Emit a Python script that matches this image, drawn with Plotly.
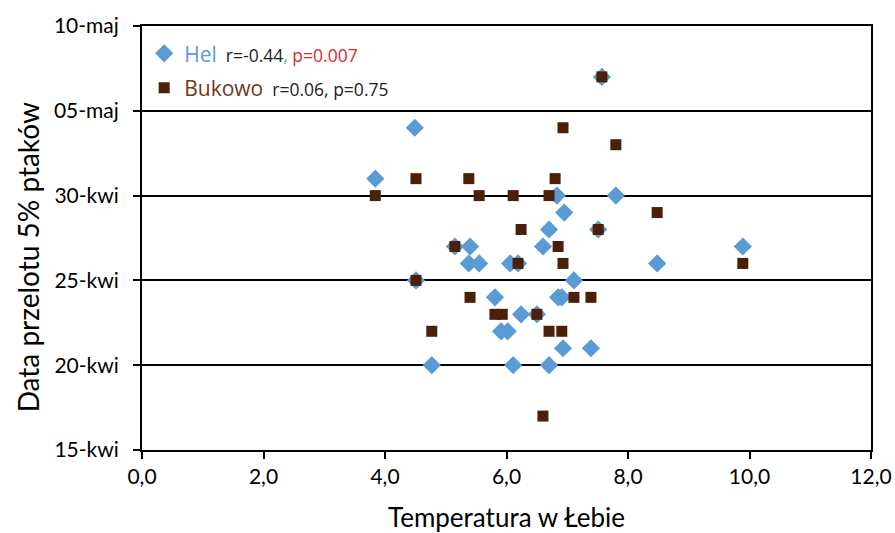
import plotly.graph_objects as go

# Day numbers counted in April (May d = 30 + d)
hel_temp = [3.84, 4.49, 4.51, 4.77, 5.15, 5.40, 5.38, 5.55, 5.81, 5.91, 6.02, 6.06, 6.11, 6.19,
            6.24, 6.50, 6.60, 6.70, 6.70, 6.83, 6.95, 6.85, 6.91, 6.93, 7.11, 7.39, 7.51, 7.57,
            7.80, 8.48, 9.89]
hel_day = [31, 34, 25, 20, 27, 27, 26, 26, 24, 22, 22, 26, 20, 26,
           23, 23, 27, 28, 20, 30, 29, 24, 24, 21, 25, 21, 28, 37,
           30, 26, 27]

buk_temp = [3.84, 4.51, 4.51, 4.77, 5.15, 5.38, 5.40, 5.55, 5.81, 5.93, 6.11, 6.19, 6.24,
            6.50, 6.60, 6.70, 6.70, 6.80, 6.85, 6.93, 6.91, 6.93, 7.11, 7.39, 7.51, 7.57,
            7.80, 8.48, 9.89]
buk_day = [30, 31, 25, 22, 27, 31, 24, 30, 23, 23, 30, 26, 28,
           23, 17, 22, 30, 31, 27, 26, 22, 34, 24, 24, 28, 37,
           33, 29, 26]

y_tickvals = [15, 20, 25, 30, 35, 40]
y_ticktext = ["15-kwi", "20-kwi", "25-kwi", "30-kwi", "05-maj", "10-maj"]
x_tickvals = [0, 2, 4, 6, 8, 10, 12]
x_ticktext = ["0,0", "2,0", "4,0", "6,0", "8,0", "10,0", "12,0"]

BLUE = "#5B9BD5"
BROWN = "#4A2108"
FONT = "Lato"

fig = go.Figure()
fig.add_trace(go.Scatter(
    x=hel_temp, y=hel_day, mode="markers", legendgroup="hel",
    marker=dict(symbol="diamond", size=14, color=BLUE),
    name=("<span style='color:#5B9BD5;font-size:21px'>Hel</span>"
          "<span style='font-size:17.5px'>&nbsp;&nbsp;r=-0.44</span>"
          "<span style='font-size:17.5px;color:#5B9BD5'>, </span>"
          "<span style='font-size:17.5px;color:#E0282E'>p=0.007</span>"),
))
fig.add_trace(go.Scatter(
    x=buk_temp, y=buk_day, mode="markers", legendgroup="buk",
    marker=dict(symbol="square", size=11, color=BROWN),
    name=("<span style='color:#6B3A1E;font-size:21px'>Bukowo</span>"
          "<span style='font-size:17.5px'>&nbsp;&nbsp;r=0.06, p=0.75</span>"),
))

fig.update_layout(
    width=895, height=533,
    margin=dict(l=142, r=24, t=26, b=83),
    paper_bgcolor="white", plot_bgcolor="white",
    font=dict(family=FONT, color="#222222"),
    showlegend=True,
    legend=dict(x=0.003, y=0.983, xanchor="left", yanchor="top",
                bgcolor="rgba(0,0,0,0)", tracegroupgap=4,
                font=dict(family="Open Sans", size=21, color="#222222"),
                itemsizing="trace"),
    xaxis=dict(
        range=[0, 12], tickvals=x_tickvals, ticktext=x_ticktext,
        showgrid=False, zeroline=False, automargin=False,
        showline=True, linecolor="black", linewidth=2, mirror=True,
        ticks="outside", ticklen=7, tickcolor="black", tickwidth=2,
        ticklabelstandoff=0,
        tickfont=dict(family=FONT, size=21, color="black"),
        title=dict(text="Temperatura w Łebie", font=dict(family=FONT, size=26, color="black"),
                   standoff=24),
    ),
    yaxis=dict(
        range=[15, 40], tickvals=y_tickvals, ticktext=y_ticktext,
        showgrid=True, gridcolor="black", gridwidth=2, zeroline=False, automargin=False,
        showline=True, linecolor="black", linewidth=2, mirror=True,
        ticks="outside", ticklen=7, tickcolor="black", tickwidth=2,
        ticklabelstandoff=10,
        tickfont=dict(family=FONT, size=21, color="black"),
    ),
    annotations=[dict(
        text="Data przelotu 5% ptaków", textangle=-90,
        xref="paper", yref="paper", x=-0.156, y=0.455,
        xanchor="center", yanchor="middle", showarrow=False,
        font=dict(family=FONT, size=28, color="black"),
    )],
)

fig.write_html("out.html")
